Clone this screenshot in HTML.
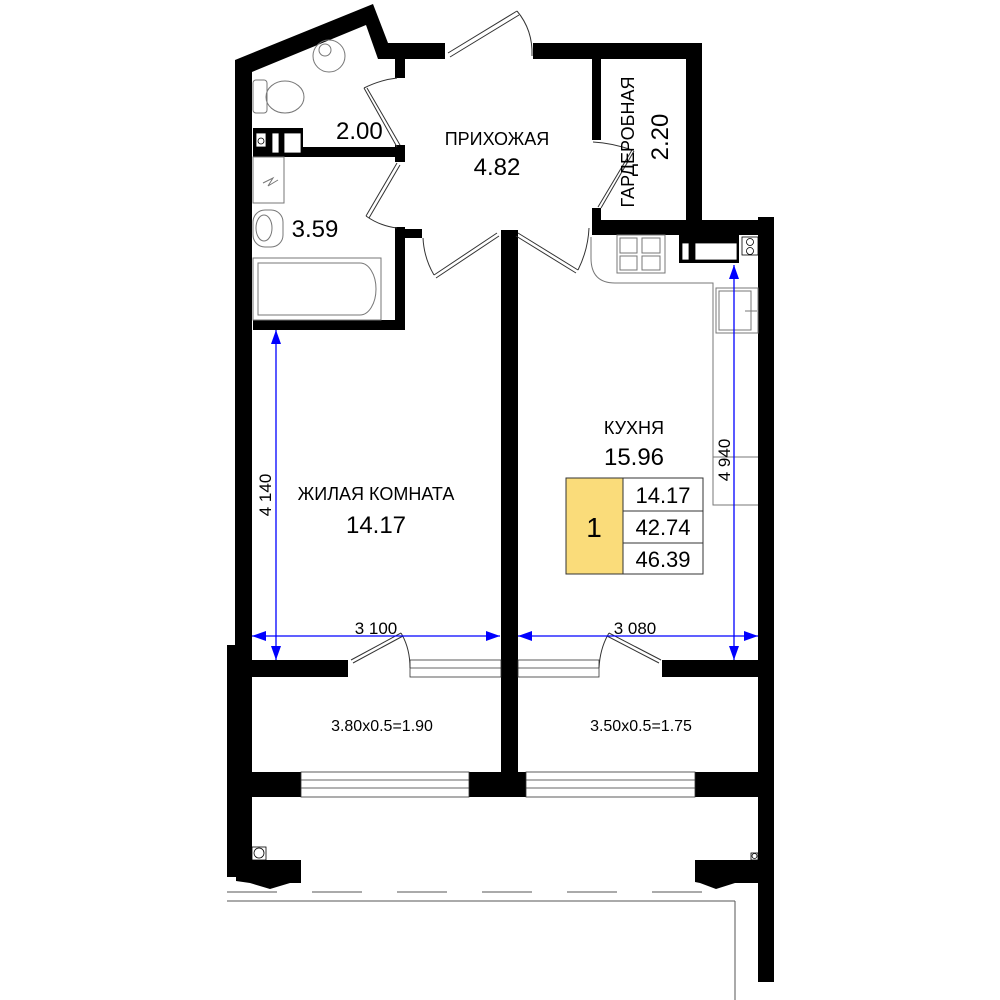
<!DOCTYPE html>
<html><head><meta charset="utf-8"><style>
html,body{margin:0;padding:0;background:#fff;}
svg{display:block;}
text{font-family:"Liberation Sans",sans-serif;fill:#000;}
</style></head><body>
<svg width="1000" height="1000" viewBox="0 0 1000 1000" xmlns="http://www.w3.org/2000/svg">
<rect width="1000" height="1000" fill="#fff"/>
<g fill="#000">
<!-- slanted top-left wall + left wall -->
<polygon points="235,60 373,4 388,43 445,43 445,59 378,59 366,25 252,72 252,660 235,660"/>
<!-- top right wall -->
<rect x="533" y="43" width="169" height="16"/>
<rect x="686" y="43" width="16" height="192"/>
<rect x="592" y="59" width="9" height="81"/>
<rect x="592" y="208" width="9" height="27"/>
<rect x="592" y="220" width="182" height="15"/>
<!-- vent block -->
<rect x="679" y="235" width="60" height="28"/>
<!-- right wall -->
<rect x="758" y="217" width="16" height="765"/>
<!-- hall left walls -->
<rect x="395" y="59" width="10" height="19"/>
<rect x="253" y="147" width="152" height="10"/>
<rect x="253" y="128" width="50" height="29"/>
<rect x="395" y="145" width="10" height="17"/>
<rect x="395" y="227" width="10" height="103"/>
<rect x="395" y="229" width="27" height="9"/>
<rect x="253" y="320" width="152" height="10"/>
<!-- central wall -->
<rect x="501" y="230" width="17" height="567"/>
<!-- living bottom -->
<rect x="252" y="660" width="96" height="17"/>
<rect x="662" y="660" width="96" height="17"/>
<!-- left outer column -->
<rect x="227" y="645" width="25" height="232"/>
<!-- balcony bottom -->
<rect x="252" y="772" width="49" height="25"/>
<rect x="469" y="772" width="57" height="25"/>
<rect x="695" y="772" width="63" height="25"/>
<!-- feet -->
<polygon points="236,860 301,860 301,883 290,883 270,889 250,883 236,881"/>
<polygon points="695,860 758,860 758,883 735,883 716,889 700,883 695,882"/>
</g>
<!-- small white details inside walls -->
<g fill="#fff" stroke="#000" stroke-width="0.8">
<rect x="256" y="133" width="10" height="14"/>
<rect x="272" y="133" width="7" height="20"/>
<rect x="284" y="133" width="17" height="20"/>
<rect x="682" y="243" width="7" height="17"/>
<rect x="695" y="243" width="42" height="17"/>
<rect x="742" y="237" width="16" height="18"/>
<circle cx="750" cy="242" r="3.5"/><circle cx="750" cy="251" r="3.5"/>
<circle cx="261" cy="141" r="3"/>
<rect x="252" y="847" width="14" height="13"/><circle cx="259" cy="853" r="5"/>
<rect x="751" y="853" width="7" height="7"/><circle cx="754.5" cy="856" r="2.5"/>
</g>
<!-- windows -->
<g fill="#fff" stroke="#333" stroke-width="0.8">
<rect x="410" y="660" width="91" height="17"/>
<line x1="410" y1="668" x2="501" y2="668"/>
<rect x="518" y="660" width="81" height="17"/>
<line x1="518" y1="668" x2="599" y2="668"/>
<rect x="301" y="772" width="168" height="25"/>
<line x1="301" y1="780" x2="469" y2="780"/><line x1="301" y1="788" x2="469" y2="788"/>
<rect x="526" y="772" width="169" height="25"/>
<line x1="526" y1="780" x2="695" y2="780"/><line x1="526" y1="788" x2="695" y2="788"/>
</g>
<!-- doors -->
<g fill="none" stroke="#333" stroke-width="1">
<path d="M448,53 L517,11 M450,57 L519,15"/><path d="M517,11 Q533,30 532,56"/>
<path d="M397,147 L364,88 M400,145 L367,88"/><path d="M364,88 Q380,80 397,78"/>
<path d="M397,163 L366,216 M400,165 L369,218"/><path d="M366,216 Q380,226 397,228"/>
<path d="M434,275 L497,233 M436,278 L499,236"/><path d="M434,275 Q424,258 423,238"/>
<path d="M518,233 L578,270 M516,236 L576,273"/><path d="M578,270 Q588,250 589,228"/>
<path d="M598,207 L632,150 M601,208 L634,151"/><path d="M632,150 Q612,143 593,142"/>
<path d="M351,660 L401,633 M353,663 L403,636"/><path d="M401,633 Q410,648 410,668"/>
<path d="M661,660 L609,633 M659,663 L607,636"/><path d="M609,633 Q600,648 599,668"/>
</g>
<!-- fixtures -->
<g fill="none" stroke="#777" stroke-width="1">
<path d="M313,56 a16,16 0 1,0 32,0 a16,16 0 1,0 -32,0"/><ellipse cx="325" cy="50" rx="6" ry="6"/>
<rect x="253" y="80" width="14" height="33" rx="3"/><ellipse cx="285" cy="97" rx="19" ry="16"/>
<rect x="253" y="157" width="31" height="46"/><path d="M263,183 l10,-5 l-5,8 l10,-6"/>
<rect x="253" y="210" width="30" height="37" rx="12"/><ellipse cx="264" cy="228" rx="8" ry="13"/>
<rect x="253" y="258" width="128" height="62"/>
<path d="M258,263 H360 a16,26 0 0,1 0,52 H258 Z"/>
<path d="M591,237 V258 Q591,283 615,283 H713 V505 H758"/>
<rect x="716" y="288" width="42" height="45"/><rect x="719" y="291" width="32" height="39"/>
<line x1="745" y1="311" x2="757" y2="311"/>
<line x1="713" y1="457" x2="758" y2="457"/>
<rect x="617" y="235" width="48" height="38"/>
<rect x="620" y="238" width="17" height="15"/><rect x="642" y="238" width="18" height="15"/>
<rect x="620" y="256" width="17" height="14"/><rect x="642" y="256" width="18" height="14"/>
</g>
<!-- balcony edge lines -->
<g stroke="#555" stroke-width="1" fill="none">
<line x1="227" y1="892" x2="735" y2="892" stroke-dasharray="50,35"/>
<line x1="227" y1="901" x2="735" y2="901"/>
<line x1="735" y1="901" x2="735" y2="1000"/>
</g>
<!-- dimensions -->
<g stroke="#00f" stroke-width="1.3" fill="#00f">
<line x1="252" y1="636" x2="500" y2="636"/>
<line x1="518" y1="636" x2="758" y2="636"/>
<line x1="276" y1="330" x2="276" y2="660"/>
<line x1="734" y1="265" x2="734" y2="660"/>
<polygon points="252,636 266,631 266,641" stroke="none"/>
<polygon points="500,636 486,631 486,641" stroke="none"/>
<polygon points="518,636 532,631 532,641" stroke="none"/>
<polygon points="758,636 744,631 744,641" stroke="none"/>
<polygon points="276,330 271,344 281,344" stroke="none"/>
<polygon points="276,660 271,646 281,646" stroke="none"/>
<polygon points="734,265 729,279 739,279" stroke="none"/>
<polygon points="734,660 729,646 739,646" stroke="none"/>
</g>
<text x="376" y="634" font-size="17" text-anchor="middle">3 100</text>
<text x="635" y="634" font-size="17" text-anchor="middle">3 080</text>
<text x="0" y="0" font-size="17" text-anchor="middle" transform="translate(271,495) rotate(-90)">4 140</text>
<text x="0" y="0" font-size="17" text-anchor="middle" transform="translate(730,460) rotate(-90)">4 940</text>
<!-- labels -->
<text x="336" y="139" font-size="24">2.00</text>
<text x="315" y="237" font-size="24" text-anchor="middle">3.59</text>
<text x="497" y="145" font-size="18" text-anchor="middle">ПРИХОЖАЯ</text>
<text x="497" y="175" font-size="24" text-anchor="middle">4.82</text>
<text x="0" y="0" font-size="18" text-anchor="middle" transform="translate(634,142) rotate(-90)">ГАРДЕРОБНАЯ</text>
<text x="0" y="0" font-size="24" text-anchor="middle" transform="translate(668,137) rotate(-90)">2.20</text>
<text x="634" y="434" font-size="18" text-anchor="middle">КУХНЯ</text>
<text x="634" y="465" font-size="24" text-anchor="middle">15.96</text>
<text x="376" y="500" font-size="18" text-anchor="middle">ЖИЛАЯ КОМНАТА</text>
<text x="376" y="533" font-size="24" text-anchor="middle">14.17</text>
<text x="382" y="731" font-size="16" text-anchor="middle">3.80x0.5=1.90</text>
<text x="641" y="731" font-size="16" text-anchor="middle">3.50x0.5=1.75</text>
<!-- info box -->
<rect x="566" y="478" width="57" height="96" fill="#fadc7a" stroke="#333" stroke-width="1"/>
<rect x="623" y="478" width="80" height="96" fill="#fff" stroke="#333" stroke-width="1"/>
<line x1="623" y1="511" x2="703" y2="511" stroke="#333"/>
<line x1="623" y1="543" x2="703" y2="543" stroke="#333"/>
<text x="594" y="537" font-size="28" text-anchor="middle">1</text>
<text x="663" y="503" font-size="22" text-anchor="middle">14.17</text>
<text x="663" y="535" font-size="22" text-anchor="middle">42.74</text>
<text x="663" y="567" font-size="22" text-anchor="middle">46.39</text>
</svg>
</body></html>
